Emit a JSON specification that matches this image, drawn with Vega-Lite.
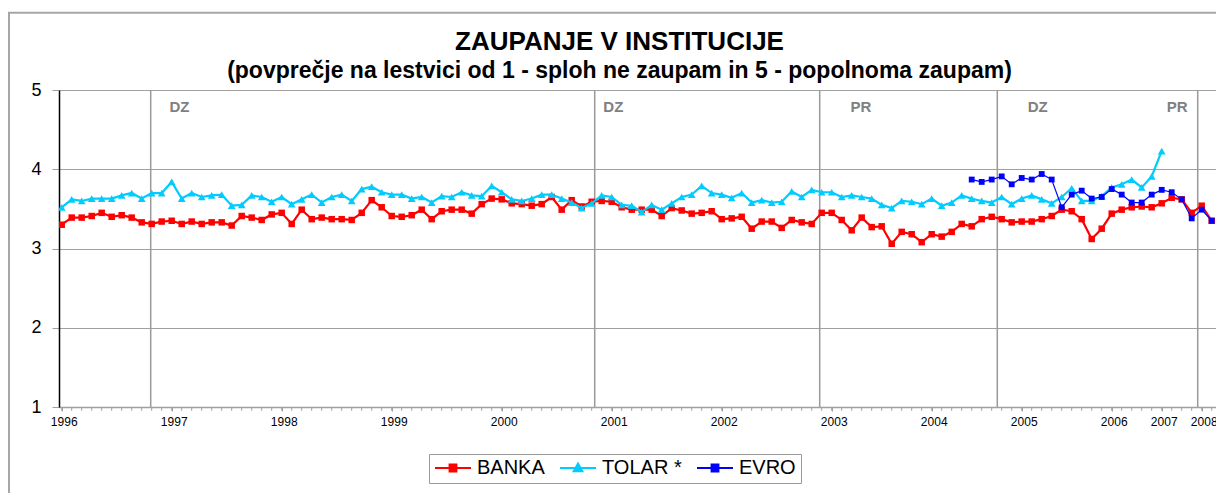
{
  "$schema": "https://vega.github.io/schema/vega-lite/v6.json",
  "width": 1157,
  "height": 317,
  "autosize": {"type": "none"},
  "padding": {"left": 59, "top": 90, "right": 0, "bottom": 86},
  "background": "white",
  "title": {
    "text": "ZAUPANJE V INSTITUCIJE",
    "subtitle": "(povprečje na lestvici od 1 - sploh ne zaupam in 5 - popolnoma zaupam)",
    "font": "Liberation Sans",
    "fontSize": 26,
    "fontWeight": "bold",
    "color": "black",
    "subtitleFont": "Liberation Sans",
    "subtitleFontSize": 23,
    "subtitleFontWeight": "bold",
    "subtitleColor": "black",
    "anchor": "middle",
    "dx": -18,
    "dy": 77,
    "offset": 6,
    "subtitlePadding": 5
  },
  "config": {
    "view": {"stroke": null},
    "axisX": {"grid": false},
    "axisY": {"grid": true}
  },
  "datasets": {
    "series": [
      {"k":0,"BANKA":3.30,"TOLAR":3.52},{"k":1,"BANKA":3.39,"TOLAR":3.62},{"k":2,"BANKA":3.39,"TOLAR":3.60},{"k":3,"BANKA":3.41,"TOLAR":3.63},{"k":4,"BANKA":3.45,"TOLAR":3.63},{"k":5,"BANKA":3.40,"TOLAR":3.63},{"k":6,"BANKA":3.42,"TOLAR":3.67},{"k":7,"BANKA":3.39,"TOLAR":3.70},{"k":8,"BANKA":3.33,"TOLAR":3.63},{"k":9,"BANKA":3.31,"TOLAR":3.70},
      {"k":10,"BANKA":3.34,"TOLAR":3.70},{"k":11,"BANKA":3.35,"TOLAR":3.84},{"k":12,"BANKA":3.31,"TOLAR":3.63},{"k":13,"BANKA":3.34,"TOLAR":3.70},{"k":14,"BANKA":3.31,"TOLAR":3.65},{"k":15,"BANKA":3.33,"TOLAR":3.67},{"k":16,"BANKA":3.33,"TOLAR":3.68},{"k":17,"BANKA":3.29,"TOLAR":3.54},{"k":18,"BANKA":3.41,"TOLAR":3.55},{"k":19,"BANKA":3.39,"TOLAR":3.67},
      {"k":20,"BANKA":3.36,"TOLAR":3.65},{"k":21,"BANKA":3.43,"TOLAR":3.59},{"k":22,"BANKA":3.45,"TOLAR":3.65},{"k":23,"BANKA":3.31,"TOLAR":3.56},{"k":24,"BANKA":3.49,"TOLAR":3.62},{"k":25,"BANKA":3.37,"TOLAR":3.68},{"k":26,"BANKA":3.39,"TOLAR":3.58},{"k":27,"BANKA":3.37,"TOLAR":3.65},{"k":28,"BANKA":3.37,"TOLAR":3.68},{"k":29,"BANKA":3.36,"TOLAR":3.60},
      {"k":30,"BANKA":3.45,"TOLAR":3.75},{"k":31,"BANKA":3.61,"TOLAR":3.78},{"k":32,"BANKA":3.52,"TOLAR":3.71},{"k":33,"BANKA":3.41,"TOLAR":3.68},{"k":34,"BANKA":3.40,"TOLAR":3.68},{"k":35,"BANKA":3.42,"TOLAR":3.63},{"k":36,"BANKA":3.49,"TOLAR":3.65},{"k":37,"BANKA":3.37,"TOLAR":3.58},{"k":38,"BANKA":3.47,"TOLAR":3.66},{"k":39,"BANKA":3.49,"TOLAR":3.65},
      {"k":40,"BANKA":3.49,"TOLAR":3.71},{"k":41,"BANKA":3.44,"TOLAR":3.67},{"k":42,"BANKA":3.56,"TOLAR":3.66},{"k":43,"BANKA":3.63,"TOLAR":3.79},{"k":44,"BANKA":3.62,"TOLAR":3.71},{"k":45,"BANKA":3.57,"TOLAR":3.62},{"k":46,"BANKA":3.56,"TOLAR":3.60},{"k":47,"BANKA":3.54,"TOLAR":3.63},{"k":48,"BANKA":3.56,"TOLAR":3.68},{"k":49,"BANKA":3.65,"TOLAR":3.68},
      {"k":50,"BANKA":3.49,"TOLAR":3.63},{"k":51,"BANKA":3.61,"TOLAR":3.58},{"k":52,"BANKA":3.53,"TOLAR":3.51},{"k":53,"BANKA":3.59,"TOLAR":3.57},{"k":54,"BANKA":3.60,"TOLAR":3.67},{"k":55,"BANKA":3.59,"TOLAR":3.65},{"k":56,"BANKA":3.52,"TOLAR":3.55},{"k":57,"BANKA":3.49,"TOLAR":3.54},{"k":58,"BANKA":3.49,"TOLAR":3.46},{"k":59,"BANKA":3.49,"TOLAR":3.55},
      {"k":60,"BANKA":3.41,"TOLAR":3.49},{"k":61,"BANKA":3.51,"TOLAR":3.57},{"k":62,"BANKA":3.48,"TOLAR":3.65},{"k":63,"BANKA":3.44,"TOLAR":3.68},{"k":64,"BANKA":3.45,"TOLAR":3.79},{"k":65,"BANKA":3.47,"TOLAR":3.70},{"k":66,"BANKA":3.37,"TOLAR":3.68},{"k":67,"BANKA":3.38,"TOLAR":3.64},{"k":68,"BANKA":3.40,"TOLAR":3.70},{"k":69,"BANKA":3.25,"TOLAR":3.58},
      {"k":70,"BANKA":3.34,"TOLAR":3.61},{"k":71,"BANKA":3.34,"TOLAR":3.58},{"k":72,"BANKA":3.26,"TOLAR":3.59},{"k":73,"BANKA":3.36,"TOLAR":3.72},{"k":74,"BANKA":3.33,"TOLAR":3.65},{"k":75,"BANKA":3.31,"TOLAR":3.74},{"k":76,"BANKA":3.45,"TOLAR":3.71},{"k":77,"BANKA":3.45,"TOLAR":3.71},{"k":78,"BANKA":3.36,"TOLAR":3.65},{"k":79,"BANKA":3.23,"TOLAR":3.67},
      {"k":80,"BANKA":3.39,"TOLAR":3.65},{"k":81,"BANKA":3.27,"TOLAR":3.63},{"k":82,"BANKA":3.28,"TOLAR":3.55},{"k":83,"BANKA":3.06,"TOLAR":3.51},{"k":84,"BANKA":3.21,"TOLAR":3.60},{"k":85,"BANKA":3.18,"TOLAR":3.59},{"k":86,"BANKA":3.08,"TOLAR":3.56},{"k":87,"BANKA":3.18,"TOLAR":3.63},{"k":88,"BANKA":3.15,"TOLAR":3.54},{"k":89,"BANKA":3.21,"TOLAR":3.58},
      {"k":90,"BANKA":3.31,"TOLAR":3.67},{"k":91,"BANKA":3.28,"TOLAR":3.63,"EVRO":3.87},{"k":92,"BANKA":3.37,"TOLAR":3.60,"EVRO":3.84},{"k":93,"BANKA":3.40,"TOLAR":3.58,"EVRO":3.87},{"k":94,"BANKA":3.37,"TOLAR":3.65,"EVRO":3.91},{"k":95,"BANKA":3.33,"TOLAR":3.56,"EVRO":3.81},{"k":96,"BANKA":3.34,"TOLAR":3.63,"EVRO":3.89},{"k":97,"BANKA":3.34,"TOLAR":3.67,"EVRO":3.87},{"k":98,"BANKA":3.37,"TOLAR":3.62,"EVRO":3.94},{"k":99,"BANKA":3.41,"TOLAR":3.57,"EVRO":3.87},
      {"k":100,"BANKA":3.49,"TOLAR":3.65,"EVRO":3.52},{"k":101,"BANKA":3.47,"TOLAR":3.76,"EVRO":3.68},{"k":102,"BANKA":3.37,"TOLAR":3.60,"EVRO":3.73},{"k":103,"BANKA":3.12,"TOLAR":3.60,"EVRO":3.63},{"k":104,"BANKA":3.25,"TOLAR":3.66,"EVRO":3.65},{"k":105,"BANKA":3.44,"TOLAR":3.77,"EVRO":3.75},{"k":106,"BANKA":3.49,"TOLAR":3.81,"EVRO":3.68},{"k":107,"BANKA":3.52,"TOLAR":3.87,"EVRO":3.58},{"k":108,"BANKA":3.53,"TOLAR":3.77,"EVRO":3.58},{"k":109,"BANKA":3.52,"TOLAR":3.91,"EVRO":3.68},
      {"k":110,"BANKA":3.57,"TOLAR":4.23,"EVRO":3.74},{"k":111,"BANKA":3.64,"EVRO":3.71},{"k":112,"BANKA":3.62,"EVRO":3.62},{"k":113,"BANKA":3.45,"EVRO":3.38},{"k":114,"BANKA":3.54,"EVRO":3.49},{"k":115,"BANKA":3.35,"EVRO":3.35}
    ],
    "events": [{"k":8.9},{"k":53.3},{"k":75.8},{"k":93.56},{"k":113.6}],
    "labels": [
      {"k":11.78,"t":"DZ"},{"k":55.16,"t":"DZ"},{"k":79.93,"t":"PR"},{"k":97.6,"t":"DZ"},{"k":111.55,"t":"PR"}
    ]
  },
  "layer": [
    {
      "data": {"values": [{}]},
      "mark": {"type": "rect", "fillOpacity": 0, "stroke": "#a6a6a6", "strokeWidth": 2, "clip": false},
      "encoding": {
        "x": {"datum": -5.27, "type": "quantitative", "scale": {"domain": [-0.27, 115.43], "nice": false, "zero": false}},
        "x2": {"datum": 140},
        "y": {"datum": 5.975, "type": "quantitative", "scale": {"domain": [1, 5], "nice": false, "zero": false}},
        "y2": {"datum": -1}
      }
    },
    {
      "data": {"name": "events"},
      "mark": {"type": "rule", "color": "#9a9a9a", "strokeWidth": 1.5},
      "encoding": {
        "x": {"field": "k", "type": "quantitative"}
      }
    },
    {
      "data": {"name": "series"},
      "mark": {"type": "rule", "color": "#a0a0a0", "strokeWidth": 1, "clip": false},
      "encoding": {
        "x": {"field": "k", "type": "quantitative"},
        "y": {"datum": 1, "type": "quantitative"},
        "y2": {"datum": 0.952}
      }
    },
    {
      "data": {"name": "labels"},
      "mark": {"type": "text", "font": "Liberation Sans", "fontSize": 15, "fontWeight": "bold", "color": "#808080", "baseline": "middle", "align": "center"},
      "encoding": {
        "x": {"field": "k", "type": "quantitative"},
        "y": {"datum": 4.79, "type": "quantitative"},
        "text": {"field": "t"}
      }
    },
    {
      "data": {"name": "series"},
      "transform": [{"fold": ["BANKA"], "as": ["s", "v"]}],
      "mark": {"type": "line", "strokeWidth": 2.2, "clip": true},
      "encoding": {
        "x": {
          "field": "k", "type": "quantitative",
          "axis": {
            "title": null,
            "grid": false,
            "values": [0, 11, 22, 33, 44, 55, 66, 77, 87, 96, 105, 110, 114],
            "labelExpr": "datum.value==0?'1996':datum.value==11?'1997':datum.value==22?'1998':datum.value==33?'1999':datum.value==44?'2000':datum.value==55?'2001':datum.value==66?'2002':datum.value==77?'2003':datum.value==87?'2004':datum.value==96?'2005':datum.value==105?'2006':datum.value==110?'2007':datum.value==114?'2008':''",
            "labelOverlap": false,
            "labelFlush": false,
            "labelFont": "Liberation Sans",
            "labelFontSize": 12,
            "labelColor": "black",
            "labelPadding": 5,
            "labelOffset": 2,
            "domainColor": "#a0a0a0",
            "domainWidth": 1.5,
            "tickColor": "#a0a0a0",
            "tickSize": 4,
            "tickWidth": 1
          }
        },
        "y": {
          "field": "v", "type": "quantitative",
          "axis": {
            "title": null,
            "values": [1, 2, 3, 4, 5],
            "format": "d",
            "grid": true,
            "gridColor": "#a0a0a0",
            "gridWidth": 1.2,
            "domainColor": "black",
            "domainWidth": 1.5,
            "tickColor": "#a0a0a0",
            "tickSize": 7,
            "labelPadding": 11,
            "labelFont": "Liberation Sans",
            "labelFontSize": 18,
            "labelColor": "black"
          }
        },
        "color": {
          "field": "s", "type": "nominal",
          "scale": {"domain": ["BANKA", "TOLAR", "EVRO"], "range": ["#ff0000", "#00ccff", "#0000ff"]},
          "legend": {
            "title": null,
            "orient": "none",
            "legendX": 370,
            "legendY": 364,
            "direction": "horizontal",
            "strokeColor": "#9a9a9a",
            "padding": 5,
            "clipHeight": 18,
            "symbolType": "M-1,0L1,0M-0.19,-0.19L0.19,-0.19L0.19,0.19L-0.19,0.19Z",
            "symbolSize": 1296,
            "symbolStrokeWidth": 2,
            "labelFont": "Liberation Sans",
            "labelFontSize": 20,
            "labelColor": "black",
            "labelOffset": 5,
            "columnPadding": 14,
            "labelExpr": "datum.value=='TOLAR'?'TOLAR *':datum.value",
            "encoding": {
              "symbols": {
                "shape": {"value": {"expr": "datum.value=='TOLAR'?'M-1,0L1,0M0,-0.25L0.24,0.18L-0.24,0.18Z':'M-1,0L1,0M-0.19,-0.19L0.19,-0.19L0.19,0.19L-0.19,0.19Z'"}},
                "fill": {"value": {"expr": "scale('color', datum.value)"}},
                "stroke": {"value": {"expr": "scale('color', datum.value)"}},
                "opacity": {"value": 1}
              }
            }
          }
        }
      }
    },
    {
      "data": {"name": "series"},
      "transform": [{"fold": ["BANKA"], "as": ["s", "v"]}],
      "mark": {"type": "point", "shape": "square", "size": 42, "filled": true, "opacity": 1, "color": "#ff0000", "clip": true},
      "encoding": {
        "x": {"field": "k", "type": "quantitative"},
        "y": {"field": "v", "type": "quantitative"}
      }
    },
    {
      "data": {"name": "series"},
      "transform": [{"fold": ["TOLAR"], "as": ["s", "v"]}],
      "mark": {"type": "line", "strokeWidth": 2.2, "clip": true},
      "encoding": {
        "x": {"field": "k", "type": "quantitative"},
        "y": {"field": "v", "type": "quantitative"},
        "color": {"field": "s", "type": "nominal"}
      }
    },
    {
      "data": {"name": "series"},
      "transform": [{"fold": ["TOLAR"], "as": ["s", "v"]}],
      "mark": {"type": "point", "shape": "triangle-up", "size": 60, "filled": true, "opacity": 1, "color": "#00ccff", "clip": true},
      "encoding": {
        "x": {"field": "k", "type": "quantitative"},
        "y": {"field": "v", "type": "quantitative"}
      }
    },
    {
      "data": {"name": "series"},
      "transform": [{"fold": ["EVRO"], "as": ["s", "v"]}],
      "mark": {"type": "line", "strokeWidth": 1.2, "clip": true},
      "encoding": {
        "x": {"field": "k", "type": "quantitative"},
        "y": {"field": "v", "type": "quantitative"},
        "color": {"field": "s", "type": "nominal"}
      }
    },
    {
      "data": {"name": "series"},
      "transform": [{"fold": ["EVRO"], "as": ["s", "v"]}],
      "mark": {"type": "point", "shape": "square", "size": 34, "filled": true, "opacity": 1, "color": "#0000ff", "clip": true},
      "encoding": {
        "x": {"field": "k", "type": "quantitative"},
        "y": {"field": "v", "type": "quantitative"}
      }
    }
  ]
}
